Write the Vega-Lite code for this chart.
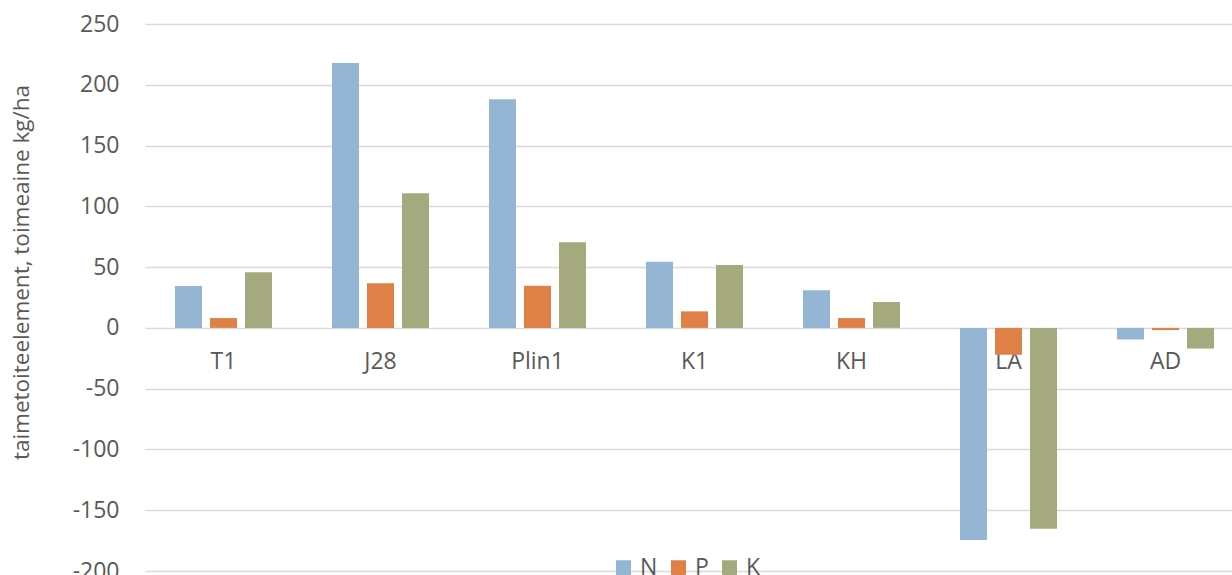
{
  "$schema": "https://vega.github.io/schema/vega-lite/v6.json",
  "width": 1087,
  "height": 547,
  "autosize": {"type": "none"},
  "padding": {"left": 145, "top": 24, "right": 0, "bottom": 4},
  "background": "#ffffff",
  "config": {
    "view": {"stroke": null},
    "font": "Open Sans",
    "axis": {"labelColor": "#595959", "titleColor": "#595959", "labelFont": "Open Sans", "titleFont": "Open Sans"}
  },
  "data": {
    "values": [
      {"site": "T1", "element": "N", "value": 34.4},
      {"site": "T1", "element": "P", "value": 8.1},
      {"site": "T1", "element": "K", "value": 45.7},
      {"site": "J28", "element": "N", "value": 217.9},
      {"site": "J28", "element": "P", "value": 36.7},
      {"site": "J28", "element": "K", "value": 110.8},
      {"site": "Plin1", "element": "N", "value": 188.0},
      {"site": "Plin1", "element": "P", "value": 34.7},
      {"site": "Plin1", "element": "K", "value": 70.5},
      {"site": "K1", "element": "N", "value": 54.5},
      {"site": "K1", "element": "P", "value": 13.6},
      {"site": "K1", "element": "K", "value": 51.7},
      {"site": "KH", "element": "N", "value": 30.9},
      {"site": "KH", "element": "P", "value": 8.1},
      {"site": "KH", "element": "K", "value": 21.3},
      {"site": "LA", "element": "N", "value": -174.5},
      {"site": "LA", "element": "P", "value": -22.1},
      {"site": "LA", "element": "K", "value": -165.2},
      {"site": "AD", "element": "N", "value": -9.5},
      {"site": "AD", "element": "P", "value": -1.8},
      {"site": "AD", "element": "K", "value": -17.0}
    ]
  },
  "mark": {"type": "bar"},
  "encoding": {
    "x": {
      "field": "site",
      "type": "nominal",
      "sort": ["T1", "J28", "Plin1", "K1", "KH", "LA", "AD"],
      "scale": {"range": [0, 1099], "paddingInner": 0.382, "paddingOuter": 0.191},
      "axis": {
        "title": null,
        "domain": false,
        "ticks": false,
        "tickSize": 0,
        "labelAngle": 0,
        "labelFontSize": 23,
        "labelBaseline": "alphabetic",
        "labelPadding": 41,
        "offset": -243.1
      }
    },
    "xOffset": {
      "field": "element",
      "type": "nominal",
      "sort": ["N", "P", "K"],
      "scale": {"paddingInner": 0.2286, "paddingOuter": 0}
    },
    "y": {
      "field": "value",
      "type": "quantitative",
      "scale": {"domain": [-200, 250], "nice": false, "zero": false},
      "axis": {
        "title": "taimetoiteelement, toimeaine kg/ha",
        "titleFontSize": 22.5,
        "titleFontWeight": "normal",
        "titleAngle": -90,
        "titleAlign": "center",
        "titleBaseline": "alphabetic",
        "titleX": -117,
        "titleY": 248,
        "values": [-200, -150, -100, -50, 0, 50, 100, 150, 200, 250],
        "labelExpr": "datum.value < 0 ? '-' + abs(datum.value) : '' + datum.value",
        "labelFontSize": 23,
        "labelPadding": 26,
        "ticks": false,
        "tickSize": 0,
        "domain": false,
        "grid": true,
        "gridColor": "#d9d9d9",
        "gridWidth": 1.3
      }
    },
    "color": {
      "field": "element",
      "type": "nominal",
      "sort": ["N", "P", "K"],
      "scale": {"domain": ["N", "P", "K"], "range": ["#94b6d4", "#df8047", "#a4aa7e"]},
      "legend": {
        "title": null,
        "orient": "none",
        "direction": "horizontal",
        "legendX": 467,
        "legendY": 532,
        "padding": 0,
        "symbolType": "square",
        "symbolSize": 225,
        "symbolStrokeWidth": 0,
        "labelFontSize": 23,
        "labelColor": "#595959",
        "labelFont": "Open Sans",
        "labelOffset": 5,
        "columnPadding": 9
      }
    }
  }
}
